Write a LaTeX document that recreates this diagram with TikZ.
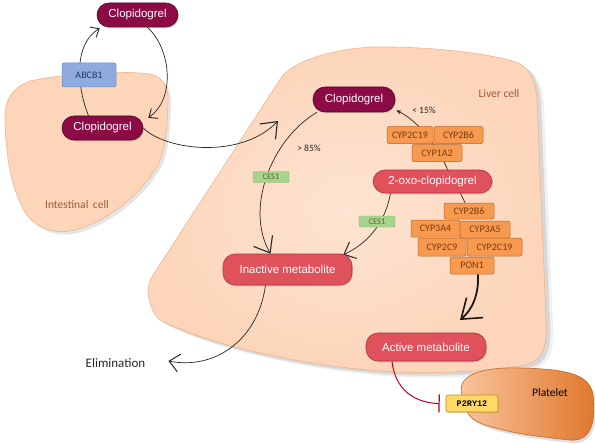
\documentclass[tikz,border=0pt]{standalone}
\usepackage{fontspec}
\setmainfont{Carlito}
\newfontfamily\arialf{Liberation Sans}
\newfontfamily\monof{Liberation Mono}
\usetikzlibrary{arrows.meta,shadows}
\pgfdeclarelayer{blobs}
\pgfdeclarelayer{links}
\pgfsetlayers{blobs,links,main}
\definecolor{clopc}{HTML}{8C0B45}
\definecolor{clopd}{HTML}{4D0626}
\definecolor{redc}{HTML}{E0525B}
\definecolor{redd}{HTML}{A83540}
\definecolor{orangec}{HTML}{F79A50}
\definecolor{oranged}{HTML}{B5652A}
\definecolor{orangetext}{HTML}{7B3A10}
\definecolor{bluec}{HTML}{8FAADC}
\definecolor{blued}{HTML}{6A8BC7}
\definecolor{bluetext}{HTML}{1F3A6E}
\definecolor{greenc}{HTML}{A8D38D}
\definecolor{greend}{HTML}{84B867}
\definecolor{greentext}{HTML}{5B6B22}
\definecolor{yellowc}{HTML}{FFD966}
\definecolor{yellowd}{HTML}{BF8F00}
\definecolor{liverin}{HTML}{FEE4D2}
\definecolor{liverout}{HTML}{FCD5BA}
\definecolor{cellline}{HTML}{F2B48A}
\definecolor{intc}{HTML}{FDD6B9}
\definecolor{platL}{HTML}{FAC7A0}
\definecolor{platR}{HTML}{E0772C}
\definecolor{platd}{HTML}{C4662A}
\definecolor{labelc}{HTML}{9C5A37}
\definecolor{inhib}{HTML}{C0001A}
\def\liverpath{(150,302) .. controls (146,292) and (148,282) .. (155,272) -- (281,78) .. controls (292,62) and (330,49) .. (373,47) .. controls (430,46) and (495,54) .. (518,63) .. controls (530,68) and (536,82) .. (537,100) -- (546,320) .. controls (548,352) and (540,363) .. (520,366) .. controls (470,373) and (420,374) .. (380,371) .. controls (300,365) and (210,345) .. (162,321) .. controls (155,317) and (152,310) .. (150,302) -- cycle}
\def\intpath{(5,120) .. controls (4,100) and (12,88) .. (30,81) .. controls (60,74) and (120,70) .. (150,74) .. controls (165,77) and (169,90) .. (168,105) .. controls (167,130) and (165,150) .. (158,165) .. controls (140,195) and (110,220) .. (75,230) .. controls (55,235) and (35,228) .. (25,212) .. controls (12,190) and (6,160) .. (5,120) -- cycle}
\def\platpath{(462,395) .. controls (455,372) and (490,367) .. (520,368) .. controls (560,369) and (590,372) .. (593,395) .. controls (596,420) and (592,442) .. (570,440) .. controls (540,437) and (500,432) .. (478,422) .. controls (465,415) and (464,405) .. (462,395) -- cycle}
\begin{document}
\begin{tikzpicture}[x=1pt,y=-1pt,
  pill/.style={rectangle, rounded corners=12pt, inner sep=0pt, text=white,
    font=\arialf\fontsize{11.5}{13}\selectfont, line width=0.6pt,
    drop shadow={opacity=0.25, shadow xshift=1pt, shadow yshift=-1.5pt}},
  clopbox/.style={pill, fill=clopc, draw=clopd},
  metbox/.style={pill, fill=redc, draw=redd},
  enz/.style={rectangle, rounded corners=2pt, inner sep=0pt, fill=orangec,
    draw=oranged, line width=0.5pt, text=orangetext,
    font=\fontsize{10}{11}\selectfont, minimum height=17pt},
  cesbox/.style={rectangle, rounded corners=1pt, inner sep=0pt, fill=greenc,
    draw=greend, line width=0.4pt, text=greentext,
    font=\fontsize{8.5}{10}\selectfont, minimum width=36pt, minimum height=11pt},
  abcbbox/.style={rectangle, rounded corners=2pt, inner sep=0pt, fill=bluec,
    draw=blued, line width=0.5pt, text=bluetext,
    font=\fontsize{10}{11}\selectfont, minimum width=54pt, minimum height=24pt},
  ybox/.style={rectangle, rounded corners=2pt, inner sep=0pt, fill=yellowc,
    draw=yellowd, line width=0.6pt, text=black,
    font=\monof\bfseries\fontsize{8.5}{10}\selectfont, minimum width=52pt, minimum height=17pt,
    drop shadow={opacity=0.2, shadow xshift=1pt, shadow yshift=-1pt}},
  celllabel/.style={inner sep=0pt, text=labelc, font=\fontsize{11.5}{13}\selectfont},
  pct/.style={inner sep=0pt, text=black!85, font=\fontsize{9.5}{11}\selectfont},
  link/.style={line width=0.7pt, draw=black!85},
  barbS/.style={-{Straight Barb[length=7pt,width=12pt,line width=0.9pt]}},
  barbM/.style={-{Straight Barb[length=10pt,width=18pt,line width=1pt]}},
  barbL/.style={-{Straight Barb[length=14pt,width=22pt,line width=1.1pt]}},
  barbXL/.style={-{Straight Barb[length=18pt,width=26pt,line width=1.6pt]}}
]
\useasboundingbox (0,0) rectangle (595,444);
\clip (0,0) rectangle (595,444);

% ---------- cells ----------
\begin{pgfonlayer}{blobs}
  \fill[white] (0,0) rectangle (595,444);
  \fill[black, opacity=0.10, xshift=4pt, yshift=-3pt] \liverpath;
  \fill[black, opacity=0.06, xshift=7pt, yshift=-5pt] \liverpath;
  \shade[inner color=liverin, outer color=liverout] \liverpath;
  \draw[cellline, line width=0.6pt] \liverpath;
  \fill[black, opacity=0.10, xshift=3pt, yshift=-3pt] \intpath;
  \fill[intc] \intpath;
  \draw[cellline, line width=0.6pt] \intpath;
  \fill[black, opacity=0.12, xshift=2pt, yshift=-3pt] \platpath;
  \shade[left color=platL, right color=platR] \platpath;
  \draw[platd, line width=0.6pt] \platpath;
\end{pgfonlayer}

% ---------- nodes ----------
\node[clopbox, minimum width=81pt, minimum height=24pt] (clop1) at (137.5,15) {Clopidogrel};
\node[abcbbox] (abcb1) at (89,75) {ABCB1};
\node[clopbox, minimum width=81pt, minimum height=24pt] (clop2) at (102.5,128) {Clopidogrel};
\node[clopbox, minimum width=82pt, minimum height=25pt] (clop3) at (354,99.5) {Clopidogrel};

\node[enz, minimum width=46pt] (cyp2c19a) at (410,135) {CYP2C19};
\node[enz, minimum width=49pt] (cyp2b6a) at (458.5,135) {CYP2B6};
\node[enz, minimum width=50pt] (cyp1a2) at (437,153) {CYP1A2};

\node[metbox, minimum width=119pt, minimum height=23pt] (oxo) at (432.5,181.5) {2-oxo-clopidogrel};

\node[cesbox] (ces1a) at (271,177) {CES1};
\node[cesbox] (ces1b) at (377,221.5) {CES1};

\node[enz, minimum width=50pt, minimum height=16pt] (cyp2b6b) at (469,211) {CYP2B6};
\node[enz, minimum width=49pt] (cyp3a4) at (435.5,228.5) {CYP3A4};
\node[enz, minimum width=50pt] (cyp3a5) at (485,229.5) {CYP3A5};
\node[enz, minimum width=48pt, minimum height=18pt] (cyp2c9) at (442,247) {CYP2C9};
\node[enz, minimum width=55pt, minimum height=18pt] (cyp2c19b) at (494.5,247) {CYP2C19};
\node[enz, minimum width=44pt] (pon1) at (472,265.5) {PON1};

\node[metbox, minimum width=129pt, minimum height=31pt] (inact) at (287.5,269.5) {Inactive metabolite};
\node[metbox, minimum width=120pt, minimum height=28pt] (act) at (426,347) {Active metabolite};
\node[ybox] (p2ry12) at (472,403.5) {P2RY12};

% ---------- labels ----------
\node[celllabel] (intlab) at (77,205) {Intestinal\hspace{2pt} cell};
\node[celllabel] (livlab) at (499,94) {Liver cell};
\node[inner sep=0pt, font=\fontsize{11.5}{13}\selectfont] (platlab) at (550,393) {Platelet};
\node[pct] (p15) at (424,110) {< 15\%};
\node[pct] (p85) at (309,148) {> 85\%};
\node[inner sep=0pt, text=black!85, font=\fontsize{13}{15}\selectfont] (elim) at (115.5,363) {Elimination};
\coordinate (liverentry) at (278,121);
\coordinate (acttop) at (460,320);

% ---------- connectors ----------
\begin{pgfonlayer}{links}
  \draw[link, barbS] ([xshift=-14pt]clop2.north) .. controls (78,90) and (72,45) .. ([xshift=3pt,yshift=-1pt]clop1.south west);
  \draw[link, barbS] ([xshift=10pt]clop1.south) .. controls (172,50) and (175,100) .. ([xshift=5pt,yshift=-2pt]clop2.north east);
  \draw[link, barbL] (clop2.east) .. controls (165,150) and (240,160) .. (liverentry);
  \draw[link, barbL] ([xshift=-37pt]clop3.south) .. controls (270,140) and (245,210) .. ([xshift=-17pt]inact.north);
  \draw[link, barbM] ([xshift=-42pt]oxo.south) .. controls (385,225) and (365,245) .. ([xshift=-9pt,yshift=-1pt]inact.north east);
  \draw[link, barbM] ([xshift=-22pt]inact.south) .. controls (258,340) and (215,370) .. ([xshift=23pt,yshift=2pt]elim.east);
  \draw[link, -{Stealth[length=5pt,width=4pt]}] ([xshift=15pt]oxo.north) .. controls (440,150) and (420,122) .. ([xshift=1pt,yshift=2pt]clop3.south east);
  \draw[link] ([xshift=28pt]oxo.south) -- ([xshift=-4pt]cyp2b6b.north);
  \draw[line width=1.8pt, draw=black!90, barbXL] ([xshift=6pt]pon1.south) .. controls (479,295) and (472,310) .. (acttop);
  \draw[inhib, line width=1pt, -{Bar[width=18pt,line width=1.2pt]}] ([xshift=-34pt]act.south) .. controls (395,390) and (415,403) .. ([xshift=-6pt]p2ry12.west);
\end{pgfonlayer}
\end{tikzpicture}
\end{document}
